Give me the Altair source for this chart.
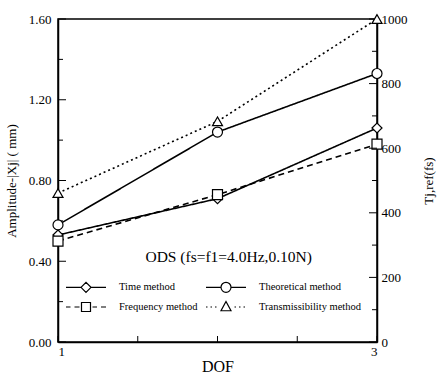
import altair as alt
import pandas as pd

dof = [1, 2, 3]
methods = ["Time method", "Frequency method", "Theoretical method", "Transmissibility method"]
time_amp = [0.53, 0.71, 1.06]
theo_amp = [0.58, 1.04, 1.33]
freq_amp = [0.50, 0.73, 0.98]
trans_tj = [461, 683, 1000]

left_ticks = [0.0, 0.4, 0.8, 1.2, 1.6]
left_minor = [0.2, 0.6, 1.0, 1.4]
right_ticks = [0, 200, 400, 600, 800, 1000]
right_minor = [100, 300, 500, 700, 900]
x_ticks = [1, 1.5, 2, 2.5, 3]

FONT = "Liberation Serif"
W, H = 319, 323
xscale = alt.Scale(domain=[1, 3], nice=False)
yscale = alt.Scale(domain=[0, 1.6], nice=False)
y2scale = alt.Scale(domain=[0, 1000], nice=False)

# legend symbol paths (line + marker), unit square scaled by symbol size
DIAMOND = "M-1,0L0,-1L1,0L0,1Z"
CIRCLE = "M-1,0A1,1 0 1,0 1,0A1,1 0 1,0 -1,0Z"
SQUARE = "M-0.9,-0.9H0.9V0.9H-0.9Z"
TRIANGLE = "M0,-1.1L1,0.75H-1Z"
SOLID = "M-4,0H-1 M1,0H4 "
DASHED = "M-4,0H-3.1 M-2.3,0H-1.3 M1.3,0H2.2 M3,0H4 "
DOTTED = "M-4,0H-3.7 M-3.1,0H-2.8 M-2.2,0H-1.9 M1.7,0H2 M2.6,0H2.9 M3.5,0H3.8 "
legend_paths = [SOLID + DIAMOND, DASHED + SQUARE, SOLID + CIRCLE, DOTTED + TRIANGLE]

shapes = {"Time method": "diamond", "Theoretical method": "circle",
          "Frequency method": "square", "Transmissibility method": "triangle-up"}
dashes = {"Time method": [1, 0], "Theoretical method": [1, 0],
          "Frequency method": [6, 4], "Transmissibility method": [2, 3]}

xenc = alt.X("DOF:Q", scale=xscale,
             axis=alt.Axis(values=dof, format="d", title="DOF", ticks=False, grid=False,
                           labelFont=FONT, labelPadding=3, titlePadding=0))
yenc_left = alt.Y("value:Q", scale=yscale,
                  axis=alt.Axis(values=left_ticks, format=".2f", title="Amplitude-|Xj| ( mm)",
                                labelFont=FONT, ticks=False, grid=False, labelPadding=7, titlePadding=10))


def series(df, yenc, name):
    base = alt.Chart(df)
    ln = base.mark_line(color="black", strokeWidth=1.6, strokeDash=dashes[name]).encode(x=xenc, y=yenc)
    pt = base.mark_point(shape=shapes[name], filled=True, fill="white", stroke="black",
                         strokeWidth=1.2, size=100, opacity=1).encode(x="DOF:Q", y="value:Q")
    return [ln, pt]


time_df = pd.DataFrame({"DOF": dof, "value": time_amp})
theo_df = pd.DataFrame({"DOF": dof, "value": theo_amp})
freq_df = pd.DataFrame({"DOF": dof, "value": freq_amp})
trans_df = pd.DataFrame({"DOF": dof, "value": trans_tj})

# inward ticks
tick_left_major = alt.Chart(pd.DataFrame({"v": left_ticks})).mark_rule(color="black").encode(
    y=alt.Y("v:Q", scale=yscale), x=alt.value(0), x2=alt.value(8))
tick_left_minor = alt.Chart(pd.DataFrame({"v": left_minor})).mark_rule(color="black").encode(
    y=alt.Y("v:Q", scale=yscale), x=alt.value(0), x2=alt.value(5))
tick_x = alt.Chart(pd.DataFrame({"d": x_ticks})).mark_rule(color="black").encode(
    x=alt.X("d:Q", scale=xscale), y=alt.value(H), y2=alt.value(H - 6))

ann = alt.Chart(pd.DataFrame({"DOF": [2.07], "value": [0.42], "t": ["ODS  (fs=f1=4.0Hz,0.10N)"]})).mark_text(
    font=FONT, fontSize=15.5, color="black").encode(x="DOF:Q", y=alt.Y("value:Q", scale=yscale), text="t:N")

# legend-only layer (no marks drawn, legend from explicit domain)
leg_df = pd.DataFrame({"DOF": dof, "value": time_amp, "method": methods[:3]})
legend_layer = alt.Chart(leg_df).transform_filter("false").mark_point(
    filled=False, color="black", strokeWidth=1.2, opacity=1).encode(
    x="DOF:Q", y=alt.Y("value:Q", scale=yscale),
    shape=alt.Shape("method:N", scale=alt.Scale(domain=methods, range=legend_paths),
                    legend=alt.Legend(title=None, orient="none", legendX=22, legendY=262, columns=2,
                                      labelFont=FONT, labelFontSize=10.5, labelColor="black",
                                      symbolSize=100, symbolStrokeWidth=1.2, symbolStrokeColor="black",
                                      labelOffset=27, columnPadding=5,
                                      rowPadding=4, labelLimit=200)),
)

left_layer = alt.layer(
    tick_left_major, tick_left_minor, tick_x,
    *series(time_df, yenc_left, "Time method"),
    *series(theo_df, yenc_left, "Theoretical method"),
    *series(freq_df, yenc_left, "Frequency method"),
    ann, legend_layer,
)

yenc_right = alt.Y("value:Q", scale=y2scale,
                   axis=alt.Axis(orient="right", values=right_ticks, format="d", title="Tj,ref(fs)",
                                 labelFont=FONT, titleAngle=270, ticks=False, grid=False,
                                 labelPadding=4, titlePadding=28))
tick_right_major = alt.Chart(pd.DataFrame({"v": right_ticks})).mark_rule(color="black").encode(
    y=alt.Y("v:Q", scale=y2scale), x=alt.value(W), x2=alt.value(W - 8))
tick_right_minor = alt.Chart(pd.DataFrame({"v": right_minor})).mark_rule(color="black").encode(
    y=alt.Y("v:Q", scale=y2scale), x=alt.value(W), x2=alt.value(W - 5))
right_layer = alt.layer(tick_right_major, tick_right_minor,
                        *series(trans_df, yenc_right, "Transmissibility method"))

chart = alt.layer(left_layer, right_layer).resolve_scale(y="independent").properties(
    width=W, height=H,
    background="white",
    autosize=alt.AutoSizeParams(type="none"),
    padding={"left": 58, "top": 19, "right": 61, "bottom": 35},
).configure_view(stroke="black", strokeWidth=1.5).configure_axis(
    labelFont=FONT, titleFont=FONT, labelFontSize=13, titleFontSize=13, titleFontWeight="normal",
    labelColor="black", titleColor="black", domainColor="black", domainWidth=1.5,
).configure_axisX(titleFontSize=16, labelFontSize=13)

chart.save("out.html", embed_options={"renderer": "svg", "actions": False})
